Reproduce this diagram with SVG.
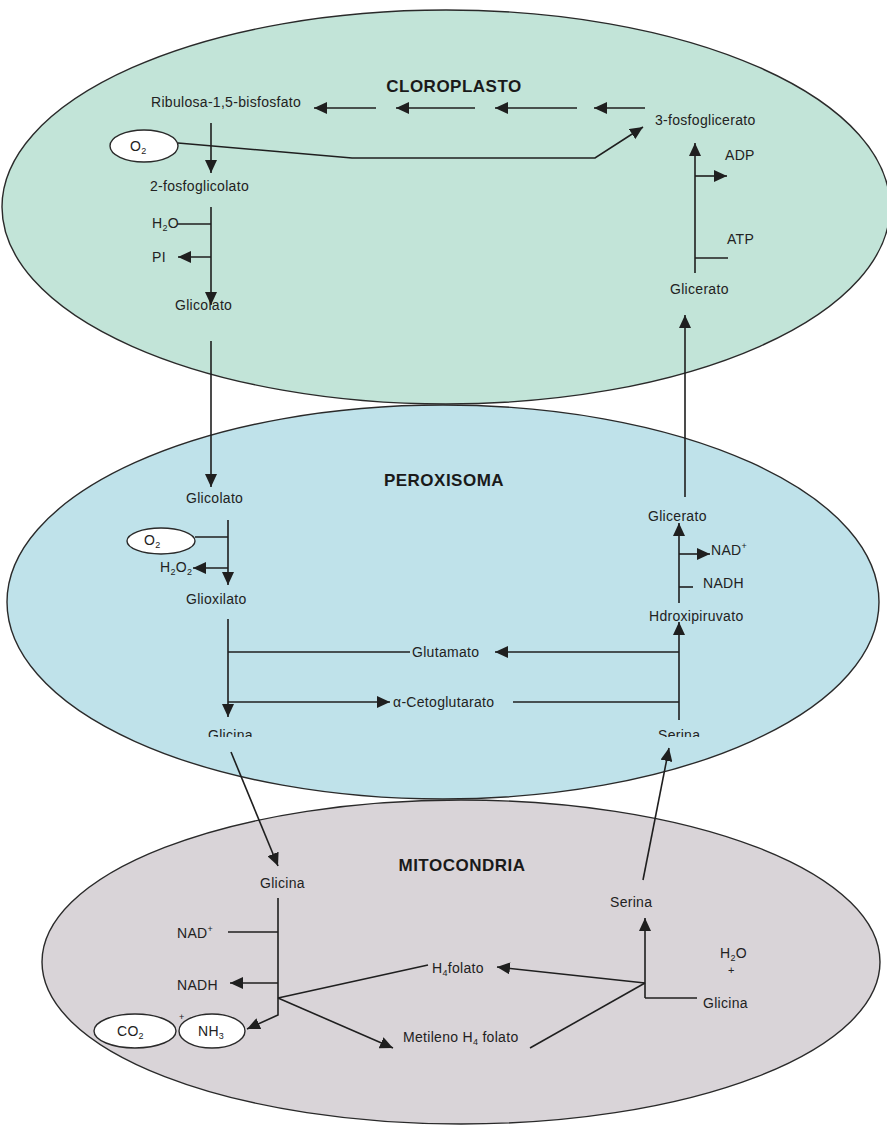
<svg xmlns="http://www.w3.org/2000/svg" width="887" height="1127" viewBox="0 0 887 1127">
  <defs>
    <style>
      .org { stroke: #2a2a2a; stroke-width: 1.4; }
      .chl { fill: #c2e4d8; }
      .per { fill: #bfe2ea; }
      .mit { fill: #d9d4d8; }
      .bubble { fill: #ffffff; stroke: #2a2a2a; stroke-width: 1.4; }
      .ln { fill: none; stroke: #1f1f1f; stroke-width: 1.6; }
      .arr { fill: none; stroke: #1f1f1f; stroke-width: 1.6; marker-end: url(#ah); }
      .lbl { font-family: "Liberation Sans", Arial, sans-serif; font-size: 14px; letter-spacing: 0.3px; fill: #222; }
      .ttl { font-family: "Liberation Sans", Arial, sans-serif; font-size: 17px; font-weight: bold; letter-spacing: 0.5px; fill: #1a1a1a; text-anchor: middle; }
      .sub { font-size: 9px; }
    </style>
    <marker id="ah" markerUnits="userSpaceOnUse" markerWidth="14" markerHeight="12" refX="13" refY="6" orient="auto">
      <path d="M0,0 L13,6 L0,12 z" fill="#1f1f1f"/>
    </marker>
    <clipPath id="cutoff">
      <rect x="0" y="0" width="887" height="737"/>
    </clipPath>
  </defs>

  <rect width="887" height="1127" fill="#ffffff"/>

  <!-- compartments -->
  <g id="cloroplasto">
    <ellipse class="org chl" cx="446" cy="207" rx="444" ry="197"/>
    <text class="ttl" x="454" y="92">CLOROPLASTO</text>
  </g>
  <g id="peroxisoma">
    <ellipse class="org per" cx="443" cy="602" rx="436" ry="197"/>
    <text class="ttl" x="444" y="486">PEROXISOMA</text>
  </g>
  <g id="mitocondria">
    <ellipse class="org mit" cx="461" cy="962" rx="419" ry="162"/>
    <text class="ttl" x="462" y="871">MITOCONDRIA</text>
  </g>

  <!-- metabolite nodes: chloroplast -->
  <g id="ribulosa"><text class="lbl" x="151" y="107">Ribulosa-1,5-bisfosfato</text></g>
  <g id="fosfoglicerato3"><text class="lbl" x="655" y="125">3-fosfoglicerato</text></g>
  <g id="o2-cloro">
    <ellipse class="bubble" cx="144" cy="146" rx="34" ry="16"/>
    <text class="lbl" x="130" y="151">O<tspan class="sub" dy="3">2</tspan></text>
  </g>
  <g id="fosfoglicolato2"><text class="lbl" x="150" y="191">2-fosfoglicolato</text></g>
  <g id="h2o-cloro"><text class="lbl" x="152" y="228">H<tspan class="sub" dy="3">2</tspan><tspan dy="-3">O</tspan></text></g>
  <g id="pi-cloro"><text class="lbl" x="152" y="262">PI</text></g>
  <g id="glicolato-cloro"><text class="lbl" x="175" y="310">Glicolato</text></g>
  <g id="adp"><text class="lbl" x="725" y="160">ADP</text></g>
  <g id="atp"><text class="lbl" x="727" y="244">ATP</text></g>
  <g id="glicerato-cloro"><text class="lbl" x="670" y="294">Glicerato</text></g>

  <!-- metabolite nodes: peroxisome -->
  <g id="glicolato-perox"><text class="lbl" x="186" y="503">Glicolato</text></g>
  <g id="o2-perox">
    <ellipse class="bubble" cx="161" cy="541" rx="34" ry="13"/>
    <text class="lbl" x="144" y="545">O<tspan class="sub" dy="3">2</tspan></text>
  </g>
  <g id="h2o2"><text class="lbl" x="160" y="572">H<tspan class="sub" dy="3">2</tspan><tspan dy="-3">O</tspan><tspan class="sub" dy="3">2</tspan></text></g>
  <g id="glioxilato"><text class="lbl" x="186" y="604">Glioxilato</text></g>
  <g id="glutamato"><text class="lbl" x="412" y="657">Glutamato</text></g>
  <g id="cetoglutarato"><text class="lbl" x="393" y="707">α-Cetoglutarato</text></g>
  <g id="glicina-perox"><text class="lbl" x="208" y="740" clip-path="url(#cutoff)">Glicina</text></g>
  <g id="glicerato-perox"><text class="lbl" x="648" y="521">Glicerato</text></g>
  <g id="nad-perox"><text class="lbl" x="711" y="555">NAD<tspan class="sub" dy="-6">+</tspan></text></g>
  <g id="nadh-perox"><text class="lbl" x="703" y="588">NADH</text></g>
  <g id="hidroxipiruvato"><text class="lbl" x="649" y="621">Hdroxipiruvato</text></g>
  <g id="serina-perox"><text class="lbl" x="658" y="740" clip-path="url(#cutoff)">Serina</text></g>

  <!-- metabolite nodes: mitochondrion -->
  <g id="glicina-mito"><text class="lbl" x="260" y="888">Glicina</text></g>
  <g id="nad-mito"><text class="lbl" x="177" y="938">NAD<tspan class="sub" dy="-6">+</tspan></text></g>
  <g id="nadh-mito"><text class="lbl" x="177" y="990">NADH</text></g>
  <g id="co2">
    <ellipse class="bubble" cx="135" cy="1031" rx="41" ry="17"/>
    <text class="lbl" x="117" y="1036">CO<tspan class="sub" dy="3">2</tspan></text>
  </g>
  <g id="nh3">
    <ellipse class="bubble" cx="212" cy="1031" rx="33" ry="17"/>
    <text class="lbl" x="198" y="1036">NH<tspan class="sub" dy="3">3</tspan></text>
  </g>
  <g id="mas-co2"><text class="lbl" x="179" y="1020" style="font-size:9px">+</text></g>
  <g id="h4folato"><text class="lbl" x="432" y="973">H<tspan class="sub" dy="3">4</tspan><tspan dy="-3">folato</tspan></text></g>
  <g id="metileno"><text class="lbl" x="403" y="1042">Metileno H<tspan class="sub" dy="3">4</tspan><tspan dy="-3"> folato</tspan></text></g>
  <g id="serina-mito"><text class="lbl" x="610" y="907">Serina</text></g>
  <g id="h2o-mito">
    <text class="lbl" x="720" y="958">H<tspan class="sub" dy="3">2</tspan><tspan dy="-3">O</tspan></text>
    <text class="lbl" x="728" y="974" style="font-size:11px">+</text>
  </g>
  <g id="glicina-mito2"><text class="lbl" x="703" y="1008">Glicina</text></g>

  <!-- connectors -->
  <g id="connectors">
    <!-- Calvin cycle regeneration -->
    <path class="arr" d="M376,108 L314,108"/>
    <path class="arr" d="M475,108 L396,108"/>
    <path class="arr" d="M577,108 L495,108"/>
    <path class="arr" d="M645,108 L594,108"/>
    <!-- oxygenation -->
    <path class="arr" d="M178,143 L352,158 L595,158 L643,127"/>
    <path class="arr" d="M211,123 L211,173"/>
    <path class="arr" d="M211,207 L211,305"/>
    <path class="ln" d="M177,224 L211,224"/>
    <path class="arr" d="M211,257 L178,257"/>
    <!-- glycerate kinase -->
    <path class="arr" d="M695,273 L695,143"/>
    <path class="arr" d="M695,176 L727,176"/>
    <path class="ln" d="M695,258 L728,258"/>

    <!-- chloroplast / peroxisome exchange -->
    <path class="arr" d="M211,341 L211,487"/>
    <path class="arr" d="M685,497 L685,315"/>

    <!-- peroxisome -->
    <path class="arr" d="M228,520 L228,585"/>
    <path class="ln" d="M195,537 L228,537"/>
    <path class="arr" d="M228,568 L193,568"/>
    <path class="arr" d="M228,619 L228,717"/>
    <path class="ln" d="M228,652 L410,652"/>
    <path class="arr" d="M228,702 L390,702"/>
    <path class="arr" d="M679,720 L679,622"/>
    <path class="arr" d="M679,603 L679,523"/>
    <path class="arr" d="M679,554 L710,554"/>
    <path class="ln" d="M679,587 L693,587"/>
    <path class="arr" d="M679,652 L495,652"/>
    <path class="ln" d="M679,702 L513,702"/>

    <!-- peroxisome / mitochondrion exchange -->
    <path class="arr" d="M231,752 L278,866"/>
    <path class="arr" d="M643,880 L669,748"/>

    <!-- mitochondrion -->
    <path class="arr" d="M278,898 L278,1015 L247,1029"/>
    <path class="ln" d="M228,932 L278,932"/>
    <path class="arr" d="M278,983 L230,983"/>
    <path class="ln" d="M278,998 L428,965"/>
    <path class="arr" d="M278,998 L393,1048"/>
    <path class="arr" d="M645,983 L497,967"/>
    <path class="ln" d="M530,1048 L645,983"/>
    <path class="arr" d="M645,998 L645,918"/>
    <path class="ln" d="M645,998 L697,998"/>
  </g>
</svg>
